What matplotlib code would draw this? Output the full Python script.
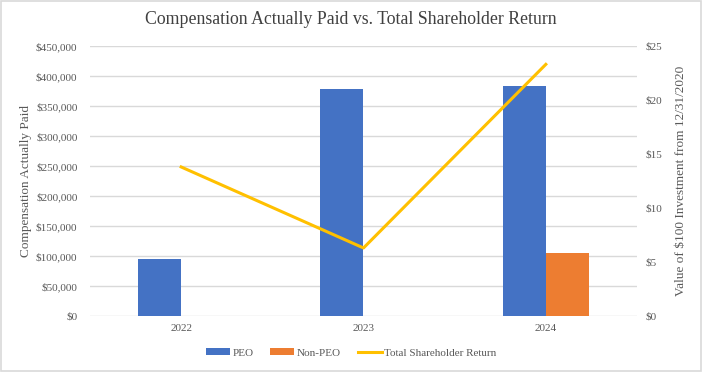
import numpy as np
import matplotlib.pyplot as plt
from matplotlib.ticker import FuncFormatter

years = ["2022", "2023", "2024"]
peo = [95000, 379000, 384000]
non_peo = [0, 0, 105500]
tsr = [13.8, 6.3, 23.3]

plt.rcParams['font.family'] = ['Liberation Serif', 'DejaVu Serif']
gray = "#595959"

fig = plt.figure(figsize=(7.02, 3.72), dpi=100)
ax = fig.add_axes([90 / 702, 1 - 316 / 372, 547 / 702, 270 / 372])
ax2 = ax.twinx()

x = np.arange(len(years))
w = 0.236
ax.bar(x - w / 2, peo, w, color="#4472C4", label="PEO", zorder=3)
ax.bar(x + w / 2, non_peo, w, color="#ED7D31", label="Non-PEO", zorder=3)
ax2.plot(x, tsr, color="#FFC000", lw=2.2, label="Total Shareholder Return")

ax.set_xlim(-0.5, 2.5)
ax.set_ylim(0, 450000)
ax.set_yticks(np.arange(0, 450001, 50000))
ax.yaxis.set_major_formatter(FuncFormatter(lambda v, p: f"${v:,.0f}"))
ax2.set_ylim(0, 25)
ax2.set_yticks(np.arange(0, 26, 5))
ax2.yaxis.set_major_formatter(FuncFormatter(lambda v, p: f"${v:.0f}"))
ax.set_xticks(x)
ax.set_xticklabels(years)

ax.grid(axis="y", color="#d9d9d9", lw=1, zorder=0)
for a in (ax, ax2):
    for s in a.spines.values():
        s.set_visible(False)
    a.tick_params(length=0, labelsize=8, colors=gray)
ax.tick_params(axis="y", pad=9)
ax2.tick_params(axis="y", pad=6)
ax.tick_params(axis="x", pad=6)

ax.set_ylabel("Compensation Actually Paid", fontsize=9.5, color=gray, labelpad=3)
ax2.set_ylabel("Value of $100 Investment from 12/31/2020", fontsize=9.5, color=gray, labelpad=9)
fig.text(0.5, 1 - 20 / 372, "Compensation Actually Paid vs. Total Shareholder Return",
         ha="center", va="center", fontsize=12.8, color="#404040")

h1, l1 = ax.get_legend_handles_labels()
h2, l2 = ax2.get_legend_handles_labels()
fig.legend(h1 + h2, l1 + l2, loc="center", bbox_to_anchor=(0.5, 1 - 353 / 372), ncol=3,
           frameon=False, fontsize=8, labelcolor=gray, handlelength=2.2, handleheight=0.55,
           columnspacing=1.5, handletextpad=0.2)

fig.add_artist(plt.Rectangle((0.001, 0.002), 0.997, 0.995, transform=fig.transFigure,
                             fill=False, edgecolor="#d9d9d9", lw=1.2))

fig.savefig("out.png", dpi=100)
